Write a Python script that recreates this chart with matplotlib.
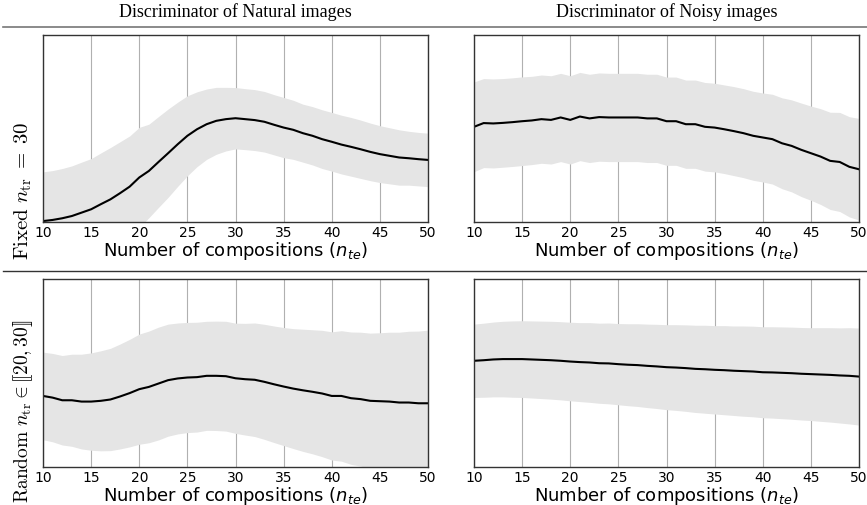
"""Discriminator score vs number of compositions, 2x2 panel grid."""

import matplotlib

matplotlib.use("Agg")
import matplotlib.pyplot as plt
import numpy as np
from matplotlib.lines import Line2D

n_te = np.arange(10, 51)

col_titles = ["Discriminator of Natural images", "Discriminator of Noisy images"]
row_labels = [r"$\mathrm{Fixed}\ n_{\rm tr}\;=\;30$",
              r"$\mathrm{Random}\ n_{\rm tr} \in [\![20, 30]\!]$"]

# normalised scores (axis spans 0..1)
fixed_natural_mean = [
    0.005, 0.011, 0.020, 0.032, 0.050, 0.068, 0.095, 0.121, 0.154, 0.189,
    0.238, 0.273, 0.321, 0.368, 0.416, 0.461, 0.496, 0.523, 0.541, 0.550,
    0.555, 0.550, 0.545, 0.536, 0.520, 0.505, 0.493, 0.475, 0.461, 0.443,
    0.429, 0.414, 0.402, 0.389, 0.375, 0.363, 0.354, 0.345, 0.341, 0.336,
    0.332,
]
fixed_natural_std = [
    0.263, 0.264, 0.266, 0.268, 0.270, 0.271, 0.274, 0.277, 0.275, 0.271,
    0.268, 0.250, 0.243, 0.236, 0.225, 0.214, 0.200, 0.188, 0.179, 0.170,
    0.164, 0.163, 0.163, 0.162, 0.161, 0.161, 0.158, 0.155, 0.156, 0.157,
    0.157, 0.157, 0.157, 0.156, 0.154, 0.152, 0.150, 0.148, 0.144, 0.143,
    0.143,
]
fixed_noisy_mean = [
    0.509, 0.529, 0.527, 0.530, 0.534, 0.539, 0.543, 0.550, 0.546, 0.559,
    0.546, 0.564, 0.554, 0.561, 0.559, 0.559, 0.559, 0.559, 0.554, 0.554,
    0.539, 0.539, 0.523, 0.523, 0.509, 0.505, 0.496, 0.486, 0.475, 0.461,
    0.452, 0.443, 0.421, 0.407, 0.386, 0.368, 0.350, 0.327, 0.321, 0.295,
    0.282,
]
fixed_noisy_std = [
    0.240, 0.238, 0.238, 0.237, 0.237, 0.237, 0.236, 0.236, 0.236, 0.236,
    0.236, 0.236, 0.236, 0.236, 0.236, 0.236, 0.236, 0.236, 0.236, 0.236,
    0.236, 0.236, 0.236, 0.236, 0.237, 0.237, 0.237, 0.238, 0.238, 0.238,
    0.238, 0.240, 0.243, 0.246, 0.250, 0.252, 0.256, 0.260, 0.265, 0.268,
    0.272,
]
random_natural_mean = [
    0.378, 0.369, 0.355, 0.355, 0.348, 0.348, 0.352, 0.359, 0.375, 0.393,
    0.414, 0.426, 0.444, 0.462, 0.471, 0.476, 0.478, 0.485, 0.485, 0.483,
    0.472, 0.467, 0.464, 0.453, 0.440, 0.428, 0.417, 0.408, 0.400, 0.391,
    0.378, 0.378, 0.366, 0.361, 0.352, 0.350, 0.348, 0.343, 0.343, 0.339,
    0.339,
]
random_natural_std = [
    0.233, 0.235, 0.238, 0.245, 0.252, 0.259, 0.266, 0.272, 0.279, 0.286,
    0.293, 0.297, 0.300, 0.298, 0.295, 0.293, 0.292, 0.290, 0.291, 0.292,
    0.293, 0.297, 0.302, 0.306, 0.310, 0.314, 0.319, 0.325, 0.330, 0.336,
    0.341, 0.347, 0.352, 0.356, 0.360, 0.364, 0.369, 0.374, 0.379, 0.384,
    0.389,
]
random_noisy_mean = [
    0.565, 0.568, 0.572, 0.574, 0.574, 0.574, 0.572, 0.570, 0.568, 0.565,
    0.561, 0.558, 0.556, 0.552, 0.551, 0.547, 0.544, 0.542, 0.538, 0.535,
    0.531, 0.529, 0.526, 0.522, 0.520, 0.517, 0.515, 0.512, 0.510, 0.508,
    0.504, 0.503, 0.501, 0.499, 0.496, 0.494, 0.492, 0.490, 0.487, 0.485,
    0.481,
]
random_noisy_std = [
    0.195, 0.197, 0.199, 0.201, 0.203, 0.204, 0.205, 0.206, 0.207, 0.208,
    0.209, 0.210, 0.212, 0.213, 0.215, 0.216, 0.218, 0.220, 0.222, 0.224,
    0.226, 0.228, 0.230, 0.232, 0.234, 0.235, 0.237, 0.238, 0.240, 0.241,
    0.242, 0.243, 0.244, 0.245, 0.246, 0.247, 0.249, 0.251, 0.253, 0.256,
    0.258,
]

panels = [
    [(fixed_natural_mean, fixed_natural_std), (fixed_noisy_mean, fixed_noisy_std)],
    [(random_natural_mean, random_natural_std), (random_noisy_mean, random_noisy_std)],
]

W, H = 867, 506
fig = plt.figure(figsize=(W / 100, H / 100), dpi=100)

col_left = [43, 474]
ax_w = 385
row_top = [36, 280]
row_h = [187, 188]

for r in range(2):
    for c in range(2):
        mean, std = (np.asarray(a) for a in panels[r][c])
        ax = fig.add_axes([col_left[c] / W, 1 - (row_top[r] + row_h[r]) / H,
                           ax_w / W, row_h[r] / H])
        ax.fill_between(n_te, mean - std, mean + std, color="#e5e5e5", lw=0)
        ax.plot(n_te, mean, color="black", lw=1.5)
        ax.set_xlim(10, 50)
        ax.set_ylim(0, 1)
        ax.set_xticks(np.arange(10, 51, 5))
        ax.set_yticks([])
        ax.grid(axis="x", color="#b0b0b0", lw=0.8)
        ax.set_axisbelow(True)
        ax.tick_params(axis="x", length=0, pad=2, labelsize=10)
        for s in ax.spines.values():
            s.set_color("#333333")
            s.set_linewidth(1.0)
        ax.set_xlabel(r"Number of compositions ($n_{te}$)", fontsize=13, labelpad=0)

for c in range(2):
    fig.text((col_left[c] + ax_w / 2) / W, 1 - 12 / H, col_titles[c],
             ha="center", va="center", fontsize=13, family="Liberation Serif")

# row labels sit low, their bottom ends just above the figure edge of each row
fig.text(23 / W, 1 - 260 / H, row_labels[0], rotation=90, ha="center", va="bottom",
         fontsize=15, math_fontfamily="cm")
fig.text(23 / W, 1 - 503 / H, row_labels[1], rotation=90, ha="center", va="bottom",
         fontsize=14, math_fontfamily="cm")

fig.add_artist(Line2D([0.003, 1.0], [1 - 28 / H] * 2, color="#777777", lw=1.2))
fig.add_artist(Line2D([0.003, 1.0], [1 - 272 / H] * 2, color="#333333", lw=1.0))

fig.savefig("out.png", dpi=100)
